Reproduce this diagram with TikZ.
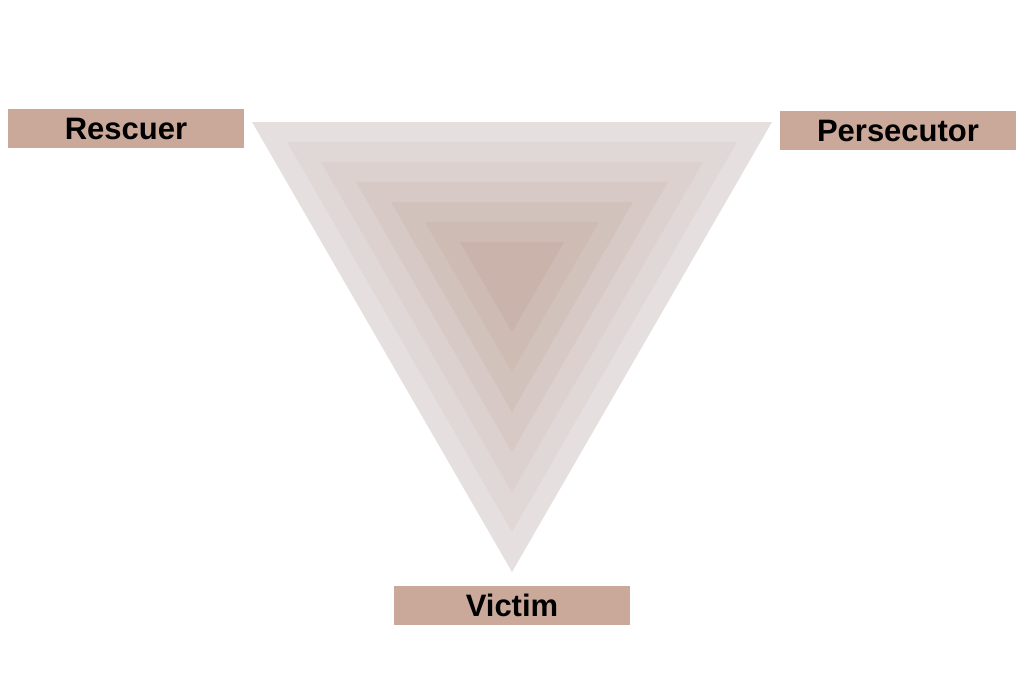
\documentclass[tikz,border=0pt]{standalone}
\usepackage{fontspec}
\setmainfont{Liberation Sans}
\usepackage{xcolor}
\usepackage{tikz}
\usetikzlibrary{positioning, calc}
\definecolor{triout}{HTML}{E5E0DF}
\definecolor{triin}{HTML}{C9B3AB}
\definecolor{labelfill}{HTML}{CAA99A}
\colorlet{tri1}{triin!17!triout}
\colorlet{tri2}{triin!33!triout}
\colorlet{tri3}{triin!50!triout}
\colorlet{tri4}{triin!67!triout}
\colorlet{tri5}{triin!83!triout}
\tikzset{
    role/.style={
        rectangle,
        fill=labelfill,
        minimum width=236pt,
        minimum height=39pt,
        inner sep=0pt,
        font=\fontsize{31}{35}\selectfont\bfseries,
    },
}

\begin{document}
\begin{tikzpicture}[x=1pt, y=-1pt]
      \useasboundingbox (0,0) rectangle (1024,696);

      % nested triangles, light outside, dark inside
      \fill[triout] (252,122) -- (772,122) -- (512,572) -- cycle;
      \fill[tri1] (287,142) -- (737,142) -- (512,532) -- cycle;
      \fill[tri2] (321,162) -- (703,162) -- (512,492) -- cycle;
      \fill[tri3] (356,182) -- (668,182) -- (512,452) -- cycle;
      \fill[tri4] (391,202) -- (633,202) -- (512,412) -- cycle;
      \fill[tri5] (425,222) -- (599,222) -- (512,372) -- cycle;
      \fill[triin] (460,242) -- (564,242) -- (512,332) -- cycle;

      \node[role] (rescuer) at (126,128.5) {Rescuer};

      \node[role] (persecutor) at (898,130.5) {Persecutor};

      \node[role] (victim) at (512,605) {Victim};
    \end{tikzpicture}
\end{document}
